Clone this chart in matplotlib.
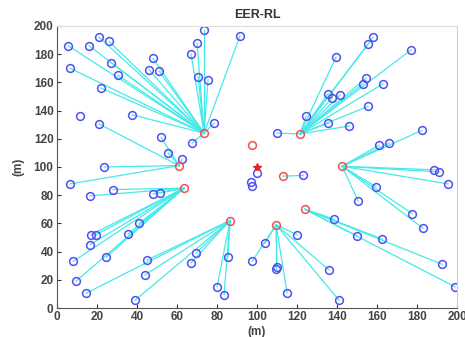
import numpy as np
import matplotlib
matplotlib.use('Agg')
import matplotlib.pyplot as plt

plt.rcParams['font.family'] = ['Liberation Sans', 'DejaVu Sans']

# cluster heads (red circles)
ch_x = [73.5, 61, 63.5, 86.5, 121.5, 97.5, 142.5, 113, 124, 109.5]
ch_y = [124, 101, 85, 62, 123.5, 115.5, 100.5, 93.5, 70, 59]

# sensor nodes and the cluster head each one reports to (-1 = none)
node_x = [5.5, 21, 16, 26, 6.5, 27, 30.5, 22, 37.5, 48, 46, 51, 73.5, 70, 67, 70.5, 75.5, 78.5, 67.5, 91.5,
          21, 52, 55.5, 62.5, 23.5, 6.5,
          28, 16.5, 48, 51.5, 41, 17, 19.5, 35.5, 16.5, 8, 24.5, 9.5,
          14.5, 45, 44, 69.5, 67, 39, 80, 83.5, 85.5,
          158, 155.5, 177, 139.5, 154.5, 153, 163, 135.5, 137.5, 141.5, 155.5, 124.5, 135.5, 146, 110,
          182.5, 161, 166, 188.5, 191, 195.5, 159.5, 150.5, 177.5, 183,
          123,
          138.5, 150, 162.5, 192.5, 199,
          120, 104, 97.5, 109.5, 110, 115, 136, 141,
          11.5, 100, 97, 97.5]
node_y = [186, 192, 186, 189, 170, 174, 165, 156, 137, 177, 169, 168, 197, 188, 180, 164, 162, 131, 117, 193,
          130.5, 121, 110, 105.5, 100, 88,
          84, 79.5, 81, 81.5, 60, 52, 52, 52.5, 45, 33, 36, 19,
          10.5, 34, 23.5, 39, 32, 5.5, 15, 9.5, 36,
          192, 187, 183, 178, 163, 159, 159, 152, 149, 151, 143, 136, 131, 129, 124,
          126, 115.5, 117, 98, 96.5, 88, 86, 76, 67, 56.5,
          94,
          63, 51, 49, 31, 15,
          52, 46, 33, 28, 29, 11, 27, 5.5,
          136, 96, 89.5, 86.5]
node_ch = [0] * 20 + [1] * 6 + [2] * 12 + [3] * 9 + [4] * 15 + [6] * 10 + [7] * 1 + [8] * 5 + [9] * 8 + [-1] * 4

sink_x, sink_y = 100, 100

fig = plt.figure(figsize=(4.65, 3.37), dpi=100)
ax = fig.add_axes([0.1226, 0.086, 0.8604, 0.837])

for x, y, c in zip(node_x, node_y, node_ch):
    if c >= 0:
        ax.plot([x, ch_x[c]], [y, ch_y[c]], color='#44eaea', lw=0.9, zorder=1)

ax.plot(node_x, node_y, 'o', mfc='none', mec='#5050f0', ms=5.6, mew=1.1, zorder=2)
ax.plot(ch_x, ch_y, 'o', mfc='none', mec='#f05050', ms=5.6, mew=1.1, zorder=2)
ax.plot(sink_x, sink_y, '*', color='#ee2222', ms=6, zorder=3)

ax.set_xlim(0, 200)
ax.set_ylim(0, 200)
ax.set_xticks(np.arange(0, 201, 20))
ax.set_yticks(np.arange(0, 201, 20))
ax.tick_params(direction='in', length=3, labelsize=8.5, colors='#333333', width=0.8, pad=2.5)
for lab in ax.get_xticklabels() + ax.get_yticklabels():
    lab.set_fontweight('bold')
    lab.set_color('#444444')
ax.spines['left'].set_color('#555555')
ax.spines['bottom'].set_color('#555555')
ax.spines['top'].set_color('#dddddd')
ax.spines['right'].set_color('#cccccc')

ax.set_title('EER-RL', fontsize=9, fontweight='bold', color='#333333', pad=6)
ax.set_xlabel('(m)', fontsize=8.5, fontweight='bold', color='#444444', labelpad=2)
ax.set_ylabel('(m)', fontsize=8.5, fontweight='bold', color='#444444', labelpad=7)

fig.savefig('out.png', dpi=100)
